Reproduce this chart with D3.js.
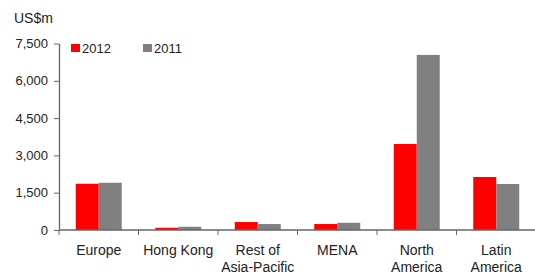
<!DOCTYPE html>
<html>
<head>
<meta charset="utf-8">
<script src="https://cdn.jsdelivr.net/npm/d3@7"></script>
<style>
  body { margin: 0; background: #fff; }
  text { font-family: "Liberation Sans", Arial, sans-serif; fill: #222; }
</style>
</head>
<body>
<div id="chart"></div>
<script>
// regions and values (US$m)
var categories = [['Europe'], ['Hong Kong'], ['Rest of', 'Asia-Pacific'], ['MENA'], ['North', 'America'], ['Latin', 'America']];
var series = ['2012', '2011'];
var values2012 = [1860, 90, 320, 240, 3460, 2130];
var values2011 = [1900, 130, 240, 290, 7040, 1850];
var yTicks = [0, 1500, 3000, 4500, 6000, 7500];
var colors = ['#ff0000', '#808080'];

var width = 535, height = 275;
var svg = d3.select('#chart').append('svg')
  .attr('width', width)
  .attr('height', height);

var x0 = d3.scaleBand()
  .domain(d3.range(categories.length))
  .range([59, 536])
  .paddingInner(0)
  .paddingOuter(0);

var x1 = d3.scaleBand()
  .domain(series)
  .range([0, 46]);

var y = d3.scaleLinear()
  .domain([0, 7500])
  .range([230, 43.5]);

var data = categories.map(function (c, i) {
  return { i: i, vals: [values2012[i], values2011[i]] };
});

// bars
var groups = svg.selectAll('g.grp')
  .data(data)
  .enter().append('g')
  .attr('class', 'grp')
  .attr('transform', function (d) {
    return 'translate(' + (x0(d.i) + x0.bandwidth() / 2 - 23) + ',0)';
  });

groups.selectAll('rect')
  .data(function (d) { return d.vals.map(function (v, k) { return { s: series[k], v: v, k: k }; }); })
  .enter().append('rect')
  .attr('x', function (d) { return x1(d.s); })
  .attr('width', x1.bandwidth())
  .attr('y', function (d) { return y(d.v); })
  .attr('height', function (d) { return y(0) - y(d.v); })
  .attr('fill', function (d) { return colors[d.k]; });

// y axis
var yAxis = svg.append('g')
  .attr('transform', 'translate(59,0)')
  .call(d3.axisLeft(y).tickValues(yTicks).tickSize(5).tickSizeOuter(0).tickPadding(6)
    .tickFormat(d3.format(',')));
yAxis.select('.domain').attr('stroke', '#666').attr('stroke-width', 1.3);
yAxis.selectAll('.tick line').attr('stroke', '#666');
yAxis.selectAll('.tick text').attr('font-size', 13).attr('fill', '#222')
  .attr('font-family', '"Liberation Sans", Arial, sans-serif');

// x axis
var xTickPos = d3.range(categories.length + 1).map(function (i) { return 59 + i * x0.bandwidth(); });
svg.append('line')
  .attr('x1', 59).attr('x2', 536)
  .attr('y1', y(0)).attr('y2', y(0))
  .attr('stroke', '#666').attr('stroke-width', 1.3);
svg.selectAll('line.xt')
  .data(xTickPos)
  .enter().append('line')
  .attr('class', 'xt')
  .attr('x1', function (d) { return d; }).attr('x2', function (d) { return d; })
  .attr('y1', y(0)).attr('y2', y(0) + 5)
  .attr('stroke', '#666');

// category labels
var labels = svg.selectAll('text.cat')
  .data(categories)
  .enter().append('text')
  .attr('class', 'cat')
  .attr('text-anchor', 'middle')
  .attr('font-size', 14)
  .attr('x', function (d, i) { return x0(i) + x0.bandwidth() / 2; })
  .attr('y', 255);
labels.selectAll('tspan')
  .data(function (d) { return d; })
  .enter().append('tspan')
  .attr('x', function () { return d3.select(this.parentNode).attr('x'); })
  .attr('dy', function (d, i) { return i === 0 ? 0 : 17; })
  .text(function (d) { return d; });

// unit label
svg.append('text')
  .attr('x', 14).attr('y', 23)
  .attr('font-size', 14)
  .text('US$m');

// legend
var legendX = [71, 143];
var legend = svg.selectAll('g.leg')
  .data(series)
  .enter().append('g')
  .attr('class', 'leg')
  .attr('transform', function (d, i) { return 'translate(' + legendX[i] + ',44)'; });
legend.append('rect')
  .attr('width', 9).attr('height', 8)
  .attr('fill', function (d, i) { return colors[i]; });
legend.append('text')
  .attr('x', 11).attr('y', 8.5)
  .attr('font-size', 13)
  .text(function (d) { return d; });
</script>
</body>
</html>
